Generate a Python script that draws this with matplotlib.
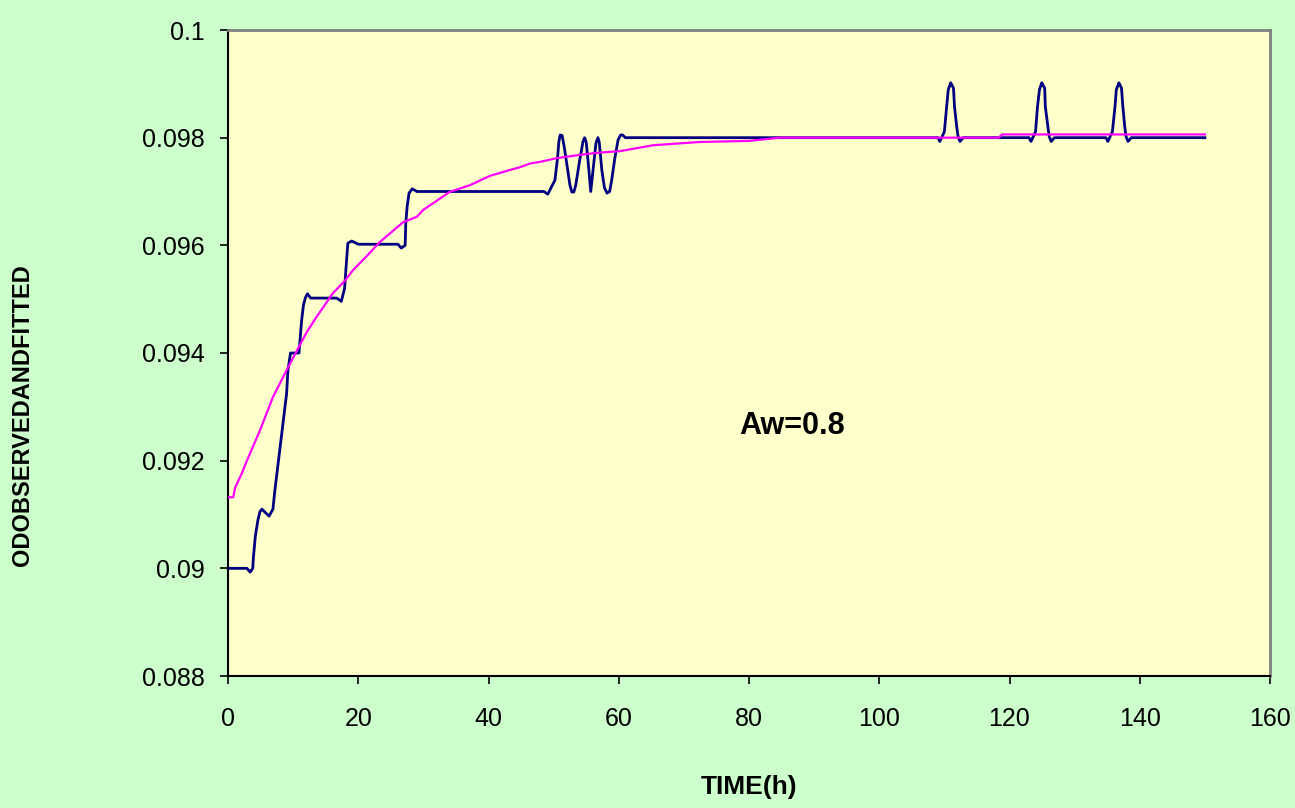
import matplotlib
matplotlib.use("Agg")
import matplotlib.pyplot as plt
from matplotlib import font_manager

names = {f.name for f in font_manager.fontManager.ttflist}
FONT = "Liberation Sans Narrow" if "Liberation Sans Narrow" in names else "Liberation Sans"

# ---- data ----
obs_t = [0, 2.9, 3.4, 3.8, 3.9, 4.2, 4.6, 4.9, 5.2, 6.3, 6.9, 7.2, 9.0, 9.2, 9.6, 10.9,
         11.1, 11.3, 11.6, 11.9, 12.2, 12.7, 16.7, 17.4, 17.9, 18.1, 18.4, 19.0, 20.0,
         26.1, 26.6, 27.2, 27.3, 27.5, 27.8, 28.3, 29.0,
         48.5, 49.1, 50.2, 50.6, 50.8, 51.0, 51.3, 51.6, 52.1, 52.5, 52.8, 53.1, 53.4,
         54.0, 54.5, 54.75, 55.0, 55.3, 55.7, 56.1, 56.5, 56.8, 57.0, 57.4, 57.8, 58.2,
         58.6, 58.9, 59.4, 59.9, 60.3, 60.6, 61.0, 61.7,
         109.0, 109.3, 110.0, 110.35, 110.6, 110.97, 111.4, 111.55, 111.9, 112.1, 112.4, 112.9,
         123.0, 123.3, 124.0, 124.3, 124.6, 124.95, 125.4, 125.5, 125.9, 126.1, 126.4, 126.9,
         134.8, 135.1, 135.8, 136.2, 136.4, 136.8, 137.2, 137.4, 137.7, 137.9, 138.2, 138.7,
         150.0]
obs_v = [0.0900, 0.0900, 0.08993, 0.0900, 0.0902, 0.0906, 0.0909, 0.09105, 0.0911, 0.09097,
         0.0911, 0.09145, 0.09325, 0.09368, 0.0940, 0.0940,
         0.0943, 0.0946, 0.0949, 0.09503, 0.0951, 0.09502, 0.09502, 0.09496, 0.0952, 0.09554,
         0.09604, 0.09608, 0.09602,
         0.09602, 0.09595, 0.09600, 0.09641, 0.09671, 0.09697, 0.09705, 0.0970,
         0.0970, 0.09695, 0.09721, 0.09762, 0.09792, 0.09805, 0.09804, 0.09785, 0.09745,
         0.09712, 0.09699, 0.09699, 0.09712,
         0.09758, 0.09792, 0.09800, 0.09792, 0.09755, 0.09700, 0.09745, 0.09790, 0.09800,
         0.09792, 0.0974, 0.09707, 0.09697, 0.09700, 0.09720, 0.09762, 0.09796, 0.09805,
         0.09805, 0.0980, 0.0980,
         0.0980, 0.09793, 0.09811, 0.09858, 0.09889, 0.09902, 0.09892, 0.09858, 0.0982,
         0.09802, 0.09793, 0.0980,
         0.0980, 0.09793, 0.09811, 0.09858, 0.09889, 0.09902, 0.09892, 0.09858, 0.0982,
         0.09802, 0.09793, 0.0980,
         0.0980, 0.09793, 0.09811, 0.09858, 0.09889, 0.09902, 0.09892, 0.09858, 0.0982,
         0.09802, 0.09793, 0.0980,
         0.0980]

fit_t = [0, 0.8, 1.1, 2.1, 2.9, 4.9, 6.9, 9.0, 10.6, 12.1, 13.6, 16.1, 18.0, 19.2, 21.3,
         23.3, 26.9, 29.0, 30.0, 32.2, 34.0, 37.2, 40.2, 43.3, 44.8, 46.4, 47.9, 50.5,
         54.0, 56.8, 60.2, 65.3, 72.5, 80.0, 84.8, 118.3, 118.9, 150.0]
fit_v = [0.09132, 0.09132, 0.0915, 0.09176, 0.0920, 0.09256, 0.09318, 0.09368, 0.09405,
         0.09439, 0.09467, 0.09511, 0.09535, 0.09554, 0.0958,
         0.09606, 0.09643, 0.09653, 0.09666, 0.09684, 0.09699, 0.09712, 0.09729, 0.0974,
         0.09745, 0.09752, 0.09755, 0.09762,
         0.09768, 0.09772, 0.09775, 0.09786, 0.09792, 0.09794, 0.0980, 0.0980, 0.09806,
         0.09806]

x_ticks = [0, 20, 40, 60, 80, 100, 120, 140, 160]
y_ticks = [0.088, 0.09, 0.092, 0.094, 0.096, 0.098, 0.1]
y_tick_labels = ["0.088", "0.09", "0.092", "0.094", "0.096", "0.098", "0.1"]

# ---- figure ----
fig = plt.figure(figsize=(12.95, 8.08), dpi=100, facecolor="#CCFFCC")
ax = fig.add_axes([228/1295, 1-676/808, (1270-228)/1295, (676-30)/808])
ax.set_facecolor("#FFFFCC")

ax.plot(obs_t, obs_v, color="#000080", lw=2.0, solid_joinstyle="round", zorder=3)
ax.plot(fit_t, fit_v, color="#FF00FF", lw=1.6, zorder=4)

ax.set_xlim(0, 160)
ax.set_ylim(0.088, 0.1)
ax.set_xticks(x_ticks)
ax.set_xticklabels([str(v) for v in x_ticks], fontfamily=FONT, fontsize=18)
ax.set_yticks(y_ticks)
ax.set_yticklabels(y_tick_labels, fontfamily=FONT, fontsize=18)
ax.tick_params(axis="both", direction="out", length=6, width=1.2, color="black")
ax.tick_params(axis="x", pad=16)
ax.tick_params(axis="y", pad=11)

for s in ["left", "bottom"]:
    ax.spines[s].set_color("black")
    ax.spines[s].set_linewidth(1.5)
for s in ["top", "right"]:
    ax.spines[s].set_color("#808080")
    ax.spines[s].set_linewidth(2.0)

ax.text(86.6, 0.09264, "Aw=0.8", fontfamily=FONT, fontweight="bold", fontsize=22,
        ha="center", va="center")

fig.text(749/1295, 1-787/808, "TIME(h)", fontfamily=FONT, fontweight="bold", fontsize=19,
         ha="center", va="center")
fig.text(23/1295, 1-415/808, "ODOBSERVEDANDFITTED", fontfamily=FONT, fontweight="bold",
         fontsize=17, rotation=90, ha="center", va="center")

fig.savefig("out.png", dpi=100, facecolor=fig.get_facecolor())
